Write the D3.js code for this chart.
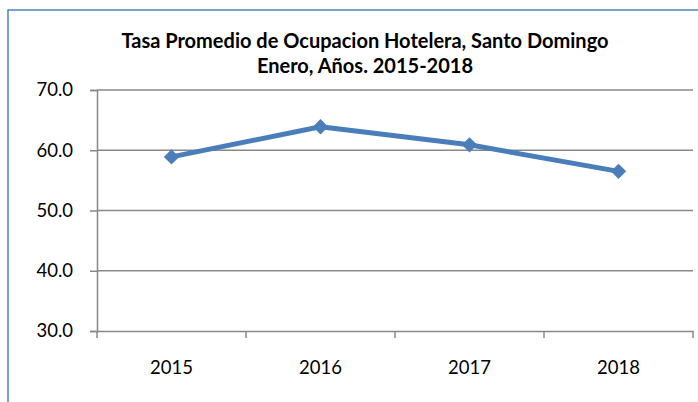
<!DOCTYPE html>
<html lang="es">
<head>
  <meta charset="UTF-8">
  <title>Tasa Promedio de Ocupacion Hotelera</title>
  <script src="https://d3js.org/d3.v7.min.js"></script>
  <style>
    body { margin: 0; background: #fff; }
    svg text { font-family: Lato, "Open Sans", sans-serif; fill: #000; }
  </style>
</head>
<body>
  <div class="canvas"></div>
  <script>
    const years = ["2015", "2016", "2017", "2018"];
    const rates = [58.9, 63.9, 60.9, 56.5];
    const yTicks = [30, 40, 50, 60, 70];
    const titleLines = ["Tasa Promedio de Ocupacion Hotelera, Santo Domingo", "Enero, Años. 2015-2018"];

    const svgWidth = 698;
    const svgHeight = 402;
    const margin = { top: 90, right: 5, bottom: 71, left: 97 };
    const graphWidth = svgWidth - margin.left - margin.right;
    const graphHeight = svgHeight - margin.top - margin.bottom;

    const svg = d3.select(".canvas")
      .append("svg")
      .attr("width", svgWidth)
      .attr("height", svgHeight);

    // chart frame (only left and top edges fall inside the picture)
    svg.append("rect")
      .attr("x", 8)
      .attr("y", 10)
      .attr("width", 720)
      .attr("height", 420)
      .attr("fill", "none")
      .attr("stroke", "#4f81bd")
      .attr("stroke-width", 1.5);

    svg.append("text")
      .attr("text-anchor", "middle")
      .style("font-weight", "bold")
      .style("font-size", "20px")
      .selectAll("tspan")
      .data(titleLines)
      .join("tspan")
      .attr("x", 365)
      .attr("y", (d, i) => 48 + i * 24.5)
      .text(d => d);

    const graph = svg.append("g")
      .attr("transform", `translate(${margin.left}, ${margin.top})`);

    const x = d3.scaleBand().domain(years).range([0, graphWidth]);
    const y = d3.scaleLinear().domain([30, 70]).range([graphHeight, 0]);

    // gridlines
    graph.append("g")
      .selectAll("line")
      .data(yTicks.filter(t => t > 30))
      .join("line")
      .attr("x1", 0)
      .attr("x2", graphWidth)
      .attr("y1", d => y(d))
      .attr("y2", d => y(d))
      .attr("stroke", "#888")
      .attr("stroke-width", 1.5);

    const yAxis = d3.axisLeft(y)
      .tickValues(yTicks)
      .tickSize(7)
      .tickPadding(17)
      .tickFormat(d3.format(".1f"));

    const yAxisGroup = graph.append("g").call(yAxis);

    const xAxis = d3.axisBottom(x)
      .tickSize(0)
      .tickPadding(30);

    const xAxisGroup = graph.append("g")
      .attr("transform", `translate(0, ${graphHeight})`)
      .call(xAxis);

    // category separator ticks on x axis
    xAxisGroup.append("g")
      .selectAll("line")
      .data(years.map(d => x(d)).concat([graphWidth]))
      .join("line")
      .attr("x1", d => d)
      .attr("x2", d => d)
      .attr("y1", 0)
      .attr("y2", 7)
      .attr("stroke", "#888")
      .attr("stroke-width", 1.5);

    [yAxisGroup, xAxisGroup].forEach(g => {
      g.selectAll(".domain").attr("stroke", "#888").attr("stroke-width", 1.5);
      g.selectAll(".tick line").attr("stroke", "#888").attr("stroke-width", 1.5);
      g.selectAll("text").style("font-size", "18.5px").attr("fill", "#000");
    });

    const data = years.map((yr, i) => ({ year: yr, rate: rates[i] }));

    const line = d3.line()
      .x(d => x(d.year) + x.bandwidth() / 2)
      .y(d => y(d.rate));

    graph.append("path")
      .datum(data)
      .attr("fill", "none")
      .attr("stroke", "#4a7ebb")
      .attr("stroke-width", 5)
      .attr("stroke-linejoin", "round")
      .attr("d", line);

    graph.selectAll(".marker")
      .data(data)
      .join("path")
      .attr("class", "marker")
      .attr("transform", d => `translate(${x(d.year) + x.bandwidth() / 2}, ${y(d.rate)})`)
      .attr("d", d3.symbol(d3.symbolDiamond2, 150))
      .attr("fill", "#4a7ebb");
  </script>
</body>
</html>
